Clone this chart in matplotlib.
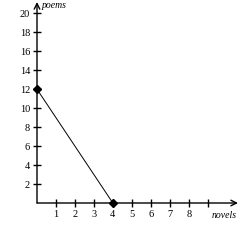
import matplotlib
matplotlib.use("Agg")
import matplotlib.pyplot as plt

novels = [0, 4]
poems = [12, 0]
x_ticks = [1, 2, 3, 4, 5, 6, 7, 8, 9]
x_labels = ["1", "2", "3", "4", "5", "6", "7", "8", ""]
y_ticks = [2, 4, 6, 8, 10, 12, 14, 16, 18, 20]

plt.rcParams['font.family'] = ['Liberation Serif', 'DejaVu Serif']

fig = plt.figure(figsize=(2.4, 2.4), dpi=100)
# axes placed so 1 novel ~ 19px and 1 poem ~ 9.5px
ax = fig.add_axes([37 / 240, 37 / 240, 201 / 240, 201 / 240])
ax.set_xlim(0, 10.6)
ax.set_ylim(0, 21.2)

for s in ax.spines.values():
    s.set_visible(False)

ax.annotate("", xy=(10.6, 0), xytext=(0, 0),
            arrowprops=dict(arrowstyle="->", lw=1.0, color="black",
                            shrinkA=0, shrinkB=0), annotation_clip=False)
ax.annotate("", xy=(0, 21.2), xytext=(0, 0),
            arrowprops=dict(arrowstyle="->", lw=1.0, color="black",
                            shrinkA=0, shrinkB=0), annotation_clip=False)

ax.plot(novels, poems, color="black", lw=0.7, marker="D", markersize=3.8,
        clip_on=False, zorder=5)

ax.set_xticks(x_ticks)
ax.set_xticklabels(x_labels)
ax.set_yticks(y_ticks)
ax.tick_params(direction="inout", length=6, width=1.0, labelsize=7.5, pad=2)

ax.text(0.25, 20.8, "poems", fontsize=7, style="italic", va="center", ha="left")
ax.text(9.2, -1.3, "novels", fontsize=7, style="italic", va="center", ha="left")

fig.savefig("out.png", dpi=100, facecolor="white")
plt.close(fig)
